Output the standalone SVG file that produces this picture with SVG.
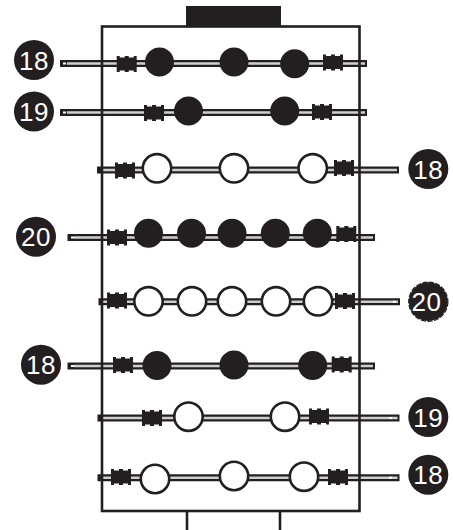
<svg xmlns="http://www.w3.org/2000/svg" width="453" height="530" viewBox="0 0 453 530">
<style>
.rod{stroke:#231f20;stroke-width:7;fill:none}
.core{stroke:#d0cecd;stroke-width:2.6;fill:none}
.tick{fill:#fff}
.frame{fill:none;stroke:#231f20;stroke-width:2.6}
.k{fill:#231f20}
.w{fill:#fff;stroke:#231f20;stroke-width:2.6}
.badge{fill:#231f20}
.scallop{fill:none;stroke:#231f20;stroke-width:1.2;stroke-dasharray:5 1.6}
.n{font-family:"Liberation Sans",Arial,sans-serif;font-size:26px;fill:#fff;text-anchor:middle;letter-spacing:.6px}
</style>
<defs>
<path id="b" class="k" d="M0-8H3V-6.500H8V-8H12V-6.500H17V-8H20V8H17V6.500H12V8H8V6.500H3V8H0Z"/>
</defs>
<rect width="453" height="530" fill="#fff"/>
<g id="rods">
<path class="rod" d="M60 63.500H367M60 112.500H367M97 170H399M67.500 237.500H375M98.500 301.700H400M67.500 366H375M97.500 418H399.500M97.500 477.700H399.500"/>
<path class="core" d="M67 63.500H365M67 112.500H365M102 170H397M74 237.500H373M102 301.700H398M74 366H373M102 418H397.500M102 477.700H397.500"/>
<path class="tick" d="M63 62.500h3v2h-3zM63 111.500h3v2h-3zM71 236.500h3v2h-3zM71 365h3v2h-3zM393 300.700h3v2h-3zM389 417h3v2h-3zM389 476.700h3v2h-3z"/>
</g>
<g id="table">
<rect class="frame" x="102" y="26.500" width="257.500" height="484.500"/>
<rect class="k" x="186" y="6" width="95" height="20"/>
<path class="frame" d="M187 511V530M280 511V530"/>
</g>
<g id="bumpers">
<use href="#b" x="116.700" y="64"/><use href="#b" x="323" y="62.500"/>
<use href="#b" x="144" y="113"/><use href="#b" x="312" y="112"/>
<use href="#b" x="115" y="170.500"/><use href="#b" x="334" y="168"/>
<use href="#b" x="107" y="237.500"/><use href="#b" x="336.300" y="234"/>
<use href="#b" x="107" y="300.500"/><use href="#b" x="335" y="301"/>
<use href="#b" x="113" y="365"/><use href="#b" x="331.700" y="364.500"/>
<use href="#b" x="142" y="418"/><use href="#b" x="309" y="416.500"/>
<use href="#b" x="111" y="477"/><use href="#b" x="328" y="477"/>
</g>
<g id="men">
<circle class="k" cx="159.500" cy="62" r="14.500"/><circle class="k" cx="234" cy="62" r="14.500"/><circle class="k" cx="294.700" cy="63.700" r="14.500"/>
<circle class="k" cx="188.500" cy="111" r="14.500"/><circle class="k" cx="284.700" cy="111" r="14.500"/>
<circle class="w" cx="157" cy="168.300" r="14.200"/><circle class="w" cx="234" cy="168.300" r="14.200"/><circle class="w" cx="312.700" cy="168.300" r="14.200"/>
<circle class="k" cx="148.500" cy="233.300" r="14.500"/><circle class="k" cx="191.500" cy="233.300" r="14.500"/><circle class="k" cx="232" cy="233.300" r="14.500"/><circle class="k" cx="275.300" cy="233.300" r="14.500"/><circle class="k" cx="317.300" cy="233.300" r="14.500"/>
<circle class="w" cx="148.500" cy="301.300" r="14.200"/><circle class="w" cx="192" cy="301.300" r="14.200"/><circle class="w" cx="232" cy="301.300" r="14.200"/><circle class="w" cx="276" cy="301.300" r="14.200"/><circle class="w" cx="318" cy="301.300" r="14.200"/>
<circle class="k" cx="157" cy="365.500" r="14.500"/><circle class="k" cx="234" cy="365" r="14.500"/><circle class="k" cx="312.700" cy="365.500" r="14.500"/>
<circle class="w" cx="188.500" cy="416.700" r="14.200"/><circle class="w" cx="285" cy="416.700" r="14.200"/>
<circle class="w" cx="155" cy="479" r="14.200"/><circle class="w" cx="234" cy="476" r="14.200"/><circle class="w" cx="304" cy="476.700" r="14.200"/>
</g>
<g id="badge-1"><circle class="badge" cx="34" cy="60" r="20"/><text class="n" x="34" y="69.500">18</text></g>
<g id="badge-2"><circle class="badge" cx="34" cy="111.500" r="20"/><text class="n" x="34" y="121">19</text></g>
<g id="badge-3"><circle class="badge" cx="428.300" cy="169" r="20"/><text class="n" x="428.300" y="178.500">18</text></g>
<g id="badge-4"><circle class="badge" cx="36" cy="236.700" r="20"/><text class="n" x="36" y="246.200">20</text></g>
<g id="badge-5"><circle class="badge" cx="428.300" cy="301.700" r="19.400"/><circle class="scallop" cx="428.300" cy="301.700" r="19.600"/><text class="n" x="426.500" y="311">20</text></g>
<g id="badge-6"><circle class="badge" cx="41" cy="364.700" r="20"/><text class="n" x="41" y="374.200">18</text></g>
<g id="badge-7"><circle class="badge" cx="428.300" cy="417" r="20"/><text class="n" x="428.300" y="426.500">19</text></g>
<g id="badge-8"><circle class="badge" cx="428.300" cy="474.700" r="20"/><text class="n" x="428.300" y="484.200">18</text></g>
</svg>
